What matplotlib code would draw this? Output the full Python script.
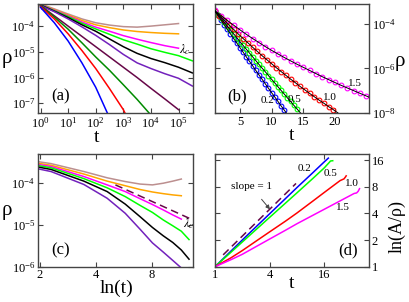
import numpy as np
import matplotlib.pyplot as plt
from matplotlib.ticker import FixedLocator, NullLocator, LogFormatterSciNotation, FixedFormatter

plt.rcParams["font.family"] = ["Liberation Serif", "DejaVu Serif"]
plt.rcParams["mathtext.fontset"] = "stix"

# ---- panel (a)/(c): log10(rho) read at log10(t) = 0, 0.5, 1, ...
a_logt = [0.0, 0.5, 1.0, 1.5, 2.0, 2.5, 3.0, 3.5, 4.0, 4.5, 5.0, 5.5]
a_brown = [-3.14, -3.33, -3.53, -3.72, -3.87, -3.96, -4.02, -4.04, -4.0, -3.95, -3.9]
a_orange = [-3.15, -3.36, -3.57, -3.78, -3.95, -4.06, -4.15, -4.21, -4.25, -4.28, -4.3]
a_magenta = [-3.16, -3.38, -3.6, -3.84, -4.04, -4.2, -4.37, -4.51, -4.64, -4.76, -4.86]
a_green = [-3.17, -3.4, -3.63, -3.89, -4.11, -4.32, -4.53, -4.7, -4.88, -5.02, -5.15, -5.35]
a_black = [-3.18, -3.42, -3.67, -3.95, -4.2, -4.5, -4.8, -5.06, -5.26, -5.42, -5.6, -5.82]
a_purple = [-3.2, -3.44, -3.72, -4.03, -4.36, -4.72, -5.1, -5.43, -5.65, -5.85, -6.03, -6.33]
a_maroon = [-3.2, -3.6, -4.0, -4.4, -4.8, -5.2, -5.6, -6.0, -6.42, -6.83, -7.25]
a_dkgreen_logt = [0.0, 0.5, 1.0, 1.5, 2.0, 2.5, 3.0, 3.5, 3.95]
a_dkgreen = [-3.22, -3.65, -4.12, -4.65, -5.2, -5.72, -6.28, -6.85, -7.4]
a_red_logt = [0.0, 0.5, 1.0, 1.5, 2.0, 2.5, 3.0, 3.07]
a_red = [-3.24, -3.72, -4.3, -4.95, -5.65, -6.43, -7.25, -7.4]
a_blue_logt = [0.0, 0.5, 1.0, 1.5, 2.0, 2.43]
a_blue = [-3.27, -3.87, -4.58, -5.43, -6.38, -7.4]

# dashed line in (c): ln(t) and log10(rho)
c_dash_lnt = [5.1, 12.7]
c_dash = [-4.04, -4.84]

# ---- panel (b): log10(rho) vs t, circles
b_blue_t = [1, 1.5, 2, 2.5, 3, 3.5, 4, 4.5, 5, 5.5, 6, 6.5, 7, 7.5, 8, 8.5, 9, 9.5,
            10, 10.5, 11, 11.5, 12]
b_blue = [-3.41, -3.62, -3.83, -4.04, -4.25, -4.45, -4.66, -4.86, -5.07, -5.27,
          -5.48, -5.68, -5.88, -6.09, -6.29, -6.49, -6.69, -6.89, -7.09, -7.28,
          -7.48, -7.68, -7.87]
b_green_t = [1, 1.5, 2, 2.5, 3, 3.5, 4, 4.5, 5, 5.5, 6, 6.5, 7, 7.5, 8, 8.5, 9,
             9.5, 10, 10.5, 11, 11.5, 12, 12.5, 13, 13.5, 14]
b_green = [-3.41, -3.59, -3.76, -3.93, -4.11, -4.28, -4.45, -4.62, -4.8, -4.97,
           -5.14, -5.31, -5.48, -5.65, -5.82, -5.99, -6.15, -6.32, -6.49, -6.65,
           -6.82, -6.99, -7.15, -7.32, -7.48, -7.65, -7.81]
b_red_t = [1, 1.75, 2.5, 3.25, 4, 4.75, 5.5, 6.25, 7, 7.75, 8.5, 9.25, 10, 10.75,
           11.5, 12.25, 13, 13.75, 14.5, 15.25, 16, 16.75, 17.5, 18.25, 19, 19.75]
b_red = [-3.41, -3.63, -3.84, -4.05, -4.25, -4.46, -4.66, -4.85, -5.05, -5.24,
         -5.43, -5.61, -5.79, -5.97, -6.14, -6.31, -6.48, -6.64, -6.81, -6.96,
         -7.12, -7.27, -7.42, -7.56, -7.71, -7.85]
b_mag_t = [1, 2, 3, 4, 5, 6, 7, 8, 9, 10, 11, 12, 13, 14, 15, 16, 17, 18, 19, 20,
           21, 22, 23, 24, 25]
b_mag = [-3.4, -3.63, -3.85, -4.06, -4.27, -4.47, -4.66, -4.84, -5.02, -5.19,
         -5.35, -5.51, -5.66, -5.81, -5.95, -6.09, -6.23, -6.37, -6.5, -6.63,
         -6.76, -6.88, -7.0, -7.12, -7.24]
# where the black fit lines end
b_fit_end_t = [12.33, 14.57, 20.5, 25.4]
b_fit_end = [-8.0, -8.0, -8.0, -7.29]
b_labels = ["0.2", "0.5", "1.0", "1.5"]

# ---- panel (d): ln(A/rho) vs t
d_blue_t = [1, 2, 4, 8, 12, 16, 17.8]
d_blue = [1, 2.0, 3.95, 7.8, 11.5, 15.2, 16.8]
d_green_t = [1, 2, 4, 8, 12, 16, 18.2, 18.8, 19.9]
d_green = [1, 1.9, 3.6, 6.8, 9.9, 13.0, 15.0, 15.6, 15.7]
d_red_t = [1, 1.5, 2, 3, 4, 6, 8, 12, 16, 20, 24, 26.5, 27.5, 28]
d_red = [1, 1.26, 1.52, 2.02, 2.47, 3.27, 4.03, 5.5, 6.87, 8.15, 9.37, 9.8, 10.3, 10.6]
d_mag_t = [1, 1.5, 2, 3, 4, 6, 8, 12, 16, 24, 32, 34.2, 36.5, 38, 39.3]
d_mag = [1, 1.2, 1.38, 1.74, 2.05, 2.58, 3.05, 3.8, 4.44, 5.53, 6.46, 6.7, 6.8, 7.1, 7.6]
d_slope_t = [1.23, 7.83]
d_slope = [1.36, 8.7]

BROWN = "#bc8f8f"
ORANGE = "#ffa500"
MAGENTA = "#ff00ff"
GREEN = "#00ff00"
PURPLE = "#7221bc"
MAROON = "#670748"
DKGREEN = "#008b00"
RED = "#ff0000"
BLUE = "#0000ff"

W, H = 409, 302
fig = plt.figure(figsize=(W / 100, H / 100), dpi=100)


def frame(px_left, px_right, px_top, px_bottom):
    return fig.add_axes([px_left / W, 1 - px_bottom / H,
                         (px_right - px_left) / W, (px_bottom - px_top) / H])


def style(ax):
    for sp in ax.spines.values():
        sp.set_color("#444444")
        sp.set_linewidth(1.0)
    ax.tick_params(which="both", direction="in", top=True, bottom=True,
                   left=True, right=True, length=3.5, width=0.8,
                   color="#444444", labelsize=9, pad=2)
    ax.xaxis.set_minor_locator(NullLocator())
    ax.yaxis.set_minor_locator(NullLocator())


def labels(ax, xlabel, xpos, ylabel, ypos, xsize=14, ysize=15, yrot=0):
    ax.set_xlabel(xlabel, fontsize=xsize, va="center", ha="center")
    ax.xaxis.set_label_coords(*xpos)
    ax.set_ylabel(ylabel, fontsize=ysize, rotation=yrot, va="center", ha="center")
    ax.yaxis.set_label_coords(*ypos)


ax_a = frame(38, 193, 4, 113)
ax_b = frame(215, 369, 4, 113)
ax_c = frame(38, 193, 154, 266.7)
ax_d = frame(215, 369, 154, 266.7)

# ---- (a)
lt = np.array(a_logt)
for vals, col in [(a_brown, BROWN), (a_orange, ORANGE), (a_magenta, MAGENTA),
                  (a_green, GREEN), (a_black, "black"), (a_purple, PURPLE),
                  (a_maroon, MAROON)]:
    ax_a.plot(10 ** lt[:len(vals)], 10 ** np.array(vals), color=col, lw=1.1)
for x, vals, col in [(a_dkgreen_logt, a_dkgreen, DKGREEN), (a_red_logt, a_red, RED),
                     (a_blue_logt, a_blue, BLUE)]:
    ax_a.plot(10 ** np.array(x), 10 ** np.array(vals), color=col, lw=1.1)
ax_a.set_xscale("log")
ax_a.set_yscale("log")
ax_a.set_xlim(0.81, 3.35e5)
ax_a.set_ylim(10 ** -7.38, 10 ** -3.14)
style(ax_a)
ax_a.xaxis.set_major_locator(FixedLocator([1e0, 1e1, 1e2, 1e3, 1e4, 1e5]))
ax_a.yaxis.set_major_locator(FixedLocator([1e-7, 1e-6, 1e-5, 1e-4]))
ax_a.xaxis.set_major_formatter(LogFormatterSciNotation())
ax_a.yaxis.set_major_formatter(LogFormatterSciNotation())
labels(ax_a, "t", (0.379, -0.225), "ρ", (-0.2, 0.5))
ax_a.text(0.085, 0.15, "(a)", transform=ax_a.transAxes, fontsize=12, va="center")
ax_a.text(0.948, 0.584, r"$\lambda_c$", transform=ax_a.transAxes, fontsize=9,
          ha="center", va="center")

# ---- (b)
for tt, vals, col in [(b_blue_t, b_blue, BLUE), (b_green_t, b_green, GREEN),
                      (b_red_t, b_red, RED), (b_mag_t, b_mag, MAGENTA)]:
    ax_b.plot(tt, 10 ** np.array(vals), ls="none", marker="o", ms=3.4,
              mfc="none", mec=col, mew=0.8)
for i, (tt, vals) in enumerate([(b_blue_t, b_blue), (b_green_t, b_green),
                                (b_red_t, b_red), (b_mag_t, b_mag)]):
    ax_b.plot(list(tt) + [b_fit_end_t[i]], 10 ** np.array(list(vals) + [b_fit_end[i]]),
              color="black", lw=0.7, zorder=3)
ax_b.set_yscale("log")
ax_b.set_xlim(1.05, 25.4)
ax_b.set_ylim(1e-8, 10 ** -3.11)
style(ax_b)
ax_b.tick_params(labelleft=False, labelright=True)
ax_b.xaxis.set_major_locator(FixedLocator([5, 10, 15, 20]))
ax_b.yaxis.set_major_locator(FixedLocator([1e-8, 1e-6, 1e-4]))
ax_b.yaxis.set_major_formatter(LogFormatterSciNotation())
ax_b.yaxis.set_label_position("right")
labels(ax_b, "t", (0.498, -0.205), "ρ", (1.2, 0.47))
ax_b.text(0.082, 0.15, "(b)", transform=ax_b.transAxes, fontsize=12, va="center")
for lab, (x, y) in zip(b_labels, [(0.344, 0.119), (0.519, 0.128), (0.747, 0.14),
                                  (0.909, 0.272)]):
    ax_b.text(x, y, lab, transform=ax_b.transAxes, fontsize=8, ha="center",
              va="center")

# ---- (c)
for vals, col in [(a_brown, BROWN), (a_orange, ORANGE), (a_magenta, MAGENTA),
                  (a_green, GREEN), (a_black, "black"), (a_purple, PURPLE)]:
    ax_c.plot(np.log(10 ** lt[1:len(vals)]), 10 ** np.array(vals[1:]), color=col, lw=1.1)
ax_c.plot(c_dash_lnt, 10 ** np.array(c_dash), color=MAROON, lw=1.1, dashes=(5, 3))
ax_c.set_xscale("log")
ax_c.set_yscale("log")
ax_c.set_xlim(1.96, 13.3)
ax_c.set_ylim(1e-6, 10 ** -3.3)
style(ax_c)
ax_c.xaxis.set_major_locator(FixedLocator([2, 4, 8]))
ax_c.xaxis.set_major_formatter(FixedFormatter(["2", "4", "8"]))
ax_c.yaxis.set_major_locator(FixedLocator([1e-6, 1e-5, 1e-4]))
ax_c.yaxis.set_major_formatter(LogFormatterSciNotation())
labels(ax_c, "ln(t)", (0.508, -0.19), "ρ", (-0.2, 0.5))
ax_c.text(0.085, 0.148, "(c)", transform=ax_c.transAxes, fontsize=12, va="center")
ax_c.text(0.97, 0.379, r"$\lambda_c$", transform=ax_c.transAxes, fontsize=9,
          ha="center", va="center")

# ---- (d)
for tt, vals, col in [(d_blue_t, d_blue, BLUE), (d_green_t, d_green, GREEN),
                      (d_red_t, d_red, RED), (d_mag_t, d_mag, MAGENTA)]:
    ax_d.plot(tt, vals, color=col, lw=1.1)
ax_d.plot(d_slope_t, d_slope, color=MAROON, lw=1.1, dashes=(5, 3))
ax_d.set_xscale("log")
ax_d.set_yscale("log")
ax_d.set_xlim(1, 50)
ax_d.set_ylim(1, 18.7)
style(ax_d)
ax_d.tick_params(labelleft=False, labelright=True)
ax_d.xaxis.set_major_locator(FixedLocator([1, 4, 16]))
ax_d.xaxis.set_major_formatter(FixedFormatter(["1", "4", "16"]))
ax_d.yaxis.set_major_locator(FixedLocator([1, 2, 4, 8, 16]))
ax_d.yaxis.set_major_formatter(FixedFormatter(["1", "2", "4", "8", "16"]))
ax_d.yaxis.set_label_position("right")
labels(ax_d, "t", (0.498, -0.145), "ln(A/ρ)", (1.18, 0.355), ysize=13, yrot=90)
ax_d.text(0.866, 0.148, "(d)", transform=ax_d.transAxes, fontsize=12,
          ha="center", va="center")
for lab, (x, y) in zip(b_labels, [(0.584, 0.873), (0.751, 0.829), (0.888, 0.74),
                                  (0.833, 0.527)]):
    ax_d.text(x, y, lab, transform=ax_d.transAxes, fontsize=8, ha="center",
              va="center")
ax_d.annotate("slope = 1", xy=(0.357, 0.509), xytext=(0.234, 0.71),
              xycoords="axes fraction", textcoords="axes fraction", fontsize=8,
              ha="center", va="center",
              arrowprops=dict(arrowstyle="-|>", color="#444444", lw=0.7,
                              shrinkA=5, shrinkB=0, mutation_scale=6))

fig.savefig("out.png", dpi=100)
